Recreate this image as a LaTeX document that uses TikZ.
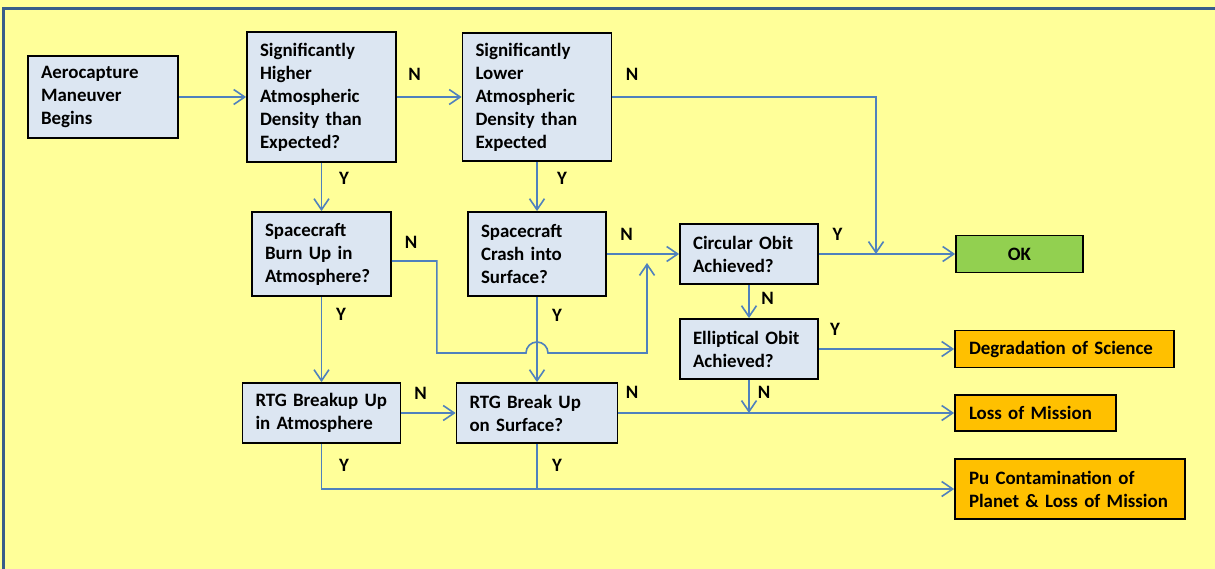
\documentclass[tikz,border=0pt]{standalone}
\usepackage{fontspec}
\setmainfont{Carlito}
\usepackage{xcolor}
\usepackage{tikz}
\definecolor{paper}{HTML}{FFFF99}
\definecolor{frameblue}{HTML}{385D8A}
\definecolor{boxblue}{HTML}{DCE6F2}
\definecolor{flowblue}{HTML}{4F81BD}
\definecolor{okgreen}{HTML}{92D050}
\definecolor{warnorange}{HTML}{FFC000}
\tikzset{
  qbox/.style={draw=black, fill=boxblue, line width=1.8pt, inner xsep=13pt, inner ysep=0pt,
    align=left, font=\bfseries\fontsize{18.9}{23}\selectfont},
  okbox/.style={qbox, fill=okgreen, align=center},
  outbox/.style={qbox, fill=warnorange, inner xsep=14pt},
  flow/.style={draw=flowblue, line width=1.6pt, -{Straight Barb[length=11pt, width=15pt]}},
  link/.style={draw=flowblue, line width=1.6pt},
  lbl/.style={font=\bfseries\fontsize{18.9}{23}\selectfont, inner sep=0pt},
}
\usetikzlibrary{arrows.meta}

\begin{document}
\begin{tikzpicture}[x=1pt, y=-1pt]

  \useasboundingbox (0,0) rectangle (1215,569);
  \clip (0,0) rectangle (1215,569);
  \fill[paper] (0,0) rectangle (1215,569);
  \draw[frameblue, line width=3pt] (3.5,8.5) rectangle (1240,600);

  % question boxes
  \node[qbox, text width=124pt, minimum height=82pt] (start) at (103,97) {Aerocapture\\Maneuver\\Begins};
  \node[qbox, text width=123pt, minimum height=130pt] (higher) at (321.5,97) {Significantly\\Higher\\Atmospheric\\Density than\\Expected?};
  \node[qbox, text width=123pt, minimum height=128pt] (lower) at (537,97) {Significantly\\Lower\\Atmospheric\\Density than\\Expected};
  \node[qbox, text width=113pt, minimum height=84pt] (burn) at (321.5,254) {Spacecraft\\Burn Up in\\Atmosphere?};
  \node[qbox, text width=112pt, minimum height=84pt] (crash) at (537,254) {Spacecraft\\Crash into\\Surface?};
  \node[qbox, text width=112pt, minimum height=60pt] (circ) at (749,254) {Circular Obit\\Achieved?};
  \node[qbox, text width=112pt, minimum height=60pt] (ellip) at (749,349) {Elliptical Obit\\Achieved?};
  \node[qbox, text width=132pt, minimum height=60pt] (rtgatm) at (321.5,413) {RTG Breakup Up\\in Atmosphere};
  \node[qbox, text width=135pt, minimum height=60pt] (rtgsurf) at (537,413) {RTG Break Up\\on Surface?};

  % outcomes
  \node[okbox, text width=101pt, minimum height=37pt] (ok) at (1019.5,254) {OK};
  \node[outbox, text width=191pt, minimum height=37pt] (degr) at (1064.5,349) {Degradation of Science};
  \node[outbox, text width=133pt, minimum height=36pt] (loss) at (1035.5,413) {Loss of Mission};
  \node[outbox, text width=202pt, minimum height=60pt] (pucont) at (1070,489) {Pu Contamination of\\Planet \& Loss of Mission};

  \coordinate (okjoin) at (876,254);
  \coordinate (hop) at (537,353);
  \coordinate (circin) at (647,263);

  \draw[flow] (start) -- (higher);
  \draw[flow] (higher) -- (lower);
  \draw[flow] (higher) -- (burn);
  \draw[flow] (lower) -- (crash);
  \draw[flow] (lower) -| (okjoin);
  \draw[flow] ([yshift=-7pt]burn.east) -- ++(45,0) |- ([xshift=-11pt]hop)
      arc[start angle=180, end angle=0, radius=11pt] -- (hop -| circin) -- (circin);
  \draw[flow] (burn) -- (rtgatm);
  \draw[flow] (crash) -- (circ);
  \draw[flow] (crash) -- (rtgsurf);
  \draw[flow] (circ) -- (ok);
  \draw[flow] (circ) -- (ellip);
  \draw[flow] (ellip) -- (degr);
  \draw[flow] (ellip) -- (ellip |- loss);
  \draw[flow] (rtgatm) -- (rtgsurf);
  \draw[flow] (rtgsurf) -- (loss);
  \draw[flow] (rtgatm) |- (pucont);
  \draw[link] (rtgsurf) -- (rtgsurf |- pucont);

  % Y / N labels
  \node[lbl] (higherN) at (414.5,74) {N};
  \node[lbl] (higherY) at (344,178.5) {Y};
  \node[lbl] (lowerN) at (632,74) {N};
  \node[lbl] (lowerY) at (562,178.5) {Y};
  \node[lbl] (burnN) at (411,242) {N};
  \node[lbl] (burnY) at (341,314.5) {Y};
  \node[lbl] (crashN) at (626.5,234.5) {N};
  \node[lbl] (crashY) at (557,315) {Y};
  \node[lbl] (circY) at (837.5,234.5) {Y};
  \node[lbl] (circN) at (767.5,298.5) {N};
  \node[lbl] (ellipY) at (835,329.5) {Y};
  \node[lbl] (ellipN) at (764,392) {N};
  \node[lbl] (rtgatmN) at (420.5,393) {N};
  \node[lbl] (rtgsurfN) at (632,392) {N};
  \node[lbl] (rtgatmY) at (344,465.5) {Y};
  \node[lbl] (rtgsurfY) at (557,465.5) {Y};

\end{tikzpicture}
\end{document}
